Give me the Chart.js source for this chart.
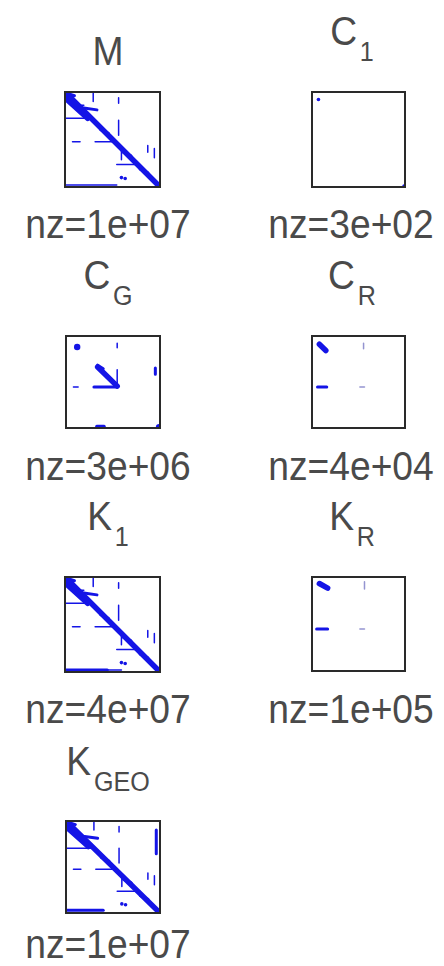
<!DOCTYPE html>
<html>
<head>
<meta charset="utf-8">
<script src="https://cdn.jsdelivr.net/npm/chart.js@4"></script>
<style>
  html, body { margin: 0; padding: 0; background: #fff; }
  body { width: 444px; height: 966px; position: relative; overflow: hidden; font-family: "Liberation Sans", Arial, sans-serif; color: #4a4a4a; }
  .lbl { position: absolute; white-space: nowrap; font-size: 40px; line-height: 40px; transform: translateX(-50%) scaleX(0.93); }
  .lbl sub { font-size: 27px; position: relative; top: 16px; vertical-align: baseline; margin-left: 3px; }
  canvas { position: absolute; }
</style>
</head>
<body>
<script>
// matrix index range of every spy panel (rows / columns 1..N)
const N = 100;

// sparsity patterns, as [col1, row1, col2, row2] runs of nonzeros and [col, row] clusters
const M_band   = [[1, 1, 100, 100], [1, 7, 24, 28]];
const M_blocks = [[1, 1, 10, 4], [20, 17, 34, 19], [38, 40, 46, 44], [62, 64, 70, 68], [80, 82, 88, 86]];
const M_lines  = [[1, 28, 24, 28], [30, 1, 30, 10], [57, 6, 57, 12], [57, 30, 57, 46], [8, 53, 16, 53],
                  [32, 53, 52, 53], [60, 58, 60, 72], [55, 77, 76, 77], [88, 57, 88, 64], [95, 60, 95, 70],
                  [1, 99, 55, 99], [10, 14, 20, 14]];
const M_dots   = [[4, 3], [60, 91], [64, 92], [100, 100]];

const C1_band   = [];
const C1_blocks = [];
const C1_lines  = [];
const C1_dots   = [[7, 8], [100, 100]];

const CG_band   = [[34, 34, 55, 55]];
const CG_blocks = [[30, 56, 55, 56], [96, 35, 96, 42], [33, 99, 41, 99], [34, 32, 40, 36]];
const CG_lines  = [[55, 37, 55, 55], [8, 56, 13, 56], [55, 8, 55, 13]];
const CG_dots   = [[12, 12], [100, 100]];

const CR_band   = [[8, 9, 15, 16]];
const CR_blocks = [[6, 56, 16, 56]];
const CR_lines  = [[56, 8, 56, 14], [52, 56, 57, 56]];
const CR_dots   = [];

const K1_band   = [[1, 1, 100, 100], [1, 7, 24, 28]];
const K1_blocks = [[1, 1, 10, 4], [20, 17, 34, 19], [38, 40, 46, 44], [62, 64, 70, 68], [80, 82, 88, 86],
                   [1, 99, 45, 99]];
const K1_lines  = [[1, 28, 24, 28], [30, 1, 30, 10], [57, 6, 57, 12], [57, 30, 57, 46], [8, 53, 16, 53],
                   [32, 53, 52, 53], [60, 58, 60, 72], [55, 77, 76, 77], [88, 57, 88, 64], [95, 60, 95, 70],
                   [45, 99, 60, 99], [10, 14, 20, 14]];
const K1_dots   = [[4, 3], [60, 91], [64, 92], [100, 100]];

const KR_band   = [[8, 7, 17, 12]];
const KR_blocks = [[5, 56, 17, 56]];
const KR_lines  = [[57, 5, 57, 13], [52, 56, 57, 56]];
const KR_dots   = [];

const KG_band   = [[1, 1, 100, 100], [1, 7, 24, 28]];
const KG_blocks = [[1, 1, 10, 4], [20, 17, 34, 19], [38, 40, 46, 44], [62, 64, 70, 68], [80, 82, 88, 86],
                   [1, 98, 40, 98], [97, 10, 97, 36]];
const KG_lines  = [[1, 30, 28, 30], [30, 1, 30, 10], [57, 6, 57, 12], [57, 30, 57, 46], [8, 53, 16, 53],
                   [32, 53, 52, 53], [60, 58, 60, 72], [55, 77, 76, 77], [88, 57, 88, 64], [95, 60, 95, 70]];
const KG_dots   = [[4, 3], [60, 91], [64, 92], [100, 100]];

// titles and nz counts
const titles = [["M", ""], ["C", "1"], ["C", "G"], ["C", "R"], ["K", "1"], ["K", "R"], ["K", "GEO"]];
const nzText = ["nz=1e+07", "nz=3e+02", "nz=3e+06", "nz=4e+04", "nz=4e+07", "nz=1e+05", "nz=1e+07"];

const panels = [
  { box: [65, 92, 95, 95],   pat: [M_band, M_blocks, M_lines, M_dots],     title: [108, 65],  nz: [108, 238] },
  { box: [312, 92, 93, 95],  pat: [C1_band, C1_blocks, C1_lines, C1_dots], title: [352, 45],  nz: [351, 238] },
  { box: [66, 336, 94, 92],  pat: [CG_band, CG_blocks, CG_lines, CG_dots], title: [108, 289], nz: [108, 480] },
  { box: [312, 336, 93, 92], pat: [CR_band, CR_blocks, CR_lines, CR_dots], title: [352, 289], nz: [351, 480] },
  { box: [65, 577, 95, 95],  pat: [K1_band, K1_blocks, K1_lines, K1_dots], title: [108, 530], nz: [108, 723] },
  { box: [312, 577, 93, 94], pat: [KR_band, KR_blocks, KR_lines, KR_dots], title: [352, 530], nz: [351, 723] },
  { box: [66, 821, 94, 92],  pat: [KG_band, KG_blocks, KG_lines, KG_dots], title: [108, 775], nz: [108, 958] }
];

const BLUE = "#1414e6";
const BASE = 34; // baseline offset of a 40px line box

// box round the plot area, like matlab axes
const frame = {
  id: "frame",
  afterDraw(chart) {
    const a = chart.chartArea, c = chart.ctx;
    c.save();
    c.strokeStyle = "#2a2a2a";
    c.lineWidth = 2;
    c.strokeRect(a.left, a.top, a.right - a.left, a.bottom - a.top);
    c.restore();
  }
};

function segs(list, width, color) {
  return list.map(s => ({
    type: "line",
    data: [{ x: s[0], y: s[1] }, { x: s[2], y: s[3] }],
    showLine: true, borderColor: color, borderWidth: width,
    borderCapStyle: "round", pointRadius: 0, fill: false, clip: 0
  }));
}

function addLabel(html, x, baseline) {
  const d = document.createElement("div");
  d.className = "lbl";
  d.innerHTML = html;
  d.style.left = x + "px";
  d.style.top = (baseline - BASE) + "px";
  document.body.appendChild(d);
}

panels.forEach((p, i) => {
  const [x, y, w, h] = p.box;
  const pad = 5;
  const cv = document.createElement("canvas");
  cv.style.left = (x - pad) + "px";
  cv.style.top = (y - pad) + "px";
  cv.width = w + 2 * pad;
  cv.height = h + 2 * pad;
  cv.style.width = cv.width + "px";
  cv.style.height = cv.height + "px";
  document.body.appendChild(cv);

  const [band, blocks, lines, dots] = p.pat;
  const faint = (i === 3 || i === 5) ? "rgba(60,60,170,0.55)" : BLUE;
  const datasets = [
    ...segs(band, 5.5, BLUE),
    ...segs(blocks, 3, BLUE),
    ...segs(lines, 1.5, faint),
    { type: "scatter", data: dots.map(d => ({ x: d[0], y: d[1] })), clip: 0,
      pointRadius: i === 2 ? 3.2 : 1.8, pointBackgroundColor: BLUE, pointBorderWidth: 0 }
  ];

  new Chart(cv, {
    type: "scatter",
    data: { datasets },
    options: {
      responsive: false,
      animation: false,
      layout: { padding: pad },
      plugins: { legend: { display: false }, tooltip: { enabled: false } },
      scales: {
        x: { display: false, min: 0, max: N + 1 },
        y: { display: false, min: 0, max: N + 1, reverse: true }
      }
    },
    plugins: [frame]
  });

  const t = titles[i];
  addLabel(t[0] + (t[1] ? "<sub>" + t[1] + "</sub>" : ""), p.title[0], p.title[1]);
  addLabel(nzText[i], p.nz[0], p.nz[1]);
});
</script>
</body>
</html>
